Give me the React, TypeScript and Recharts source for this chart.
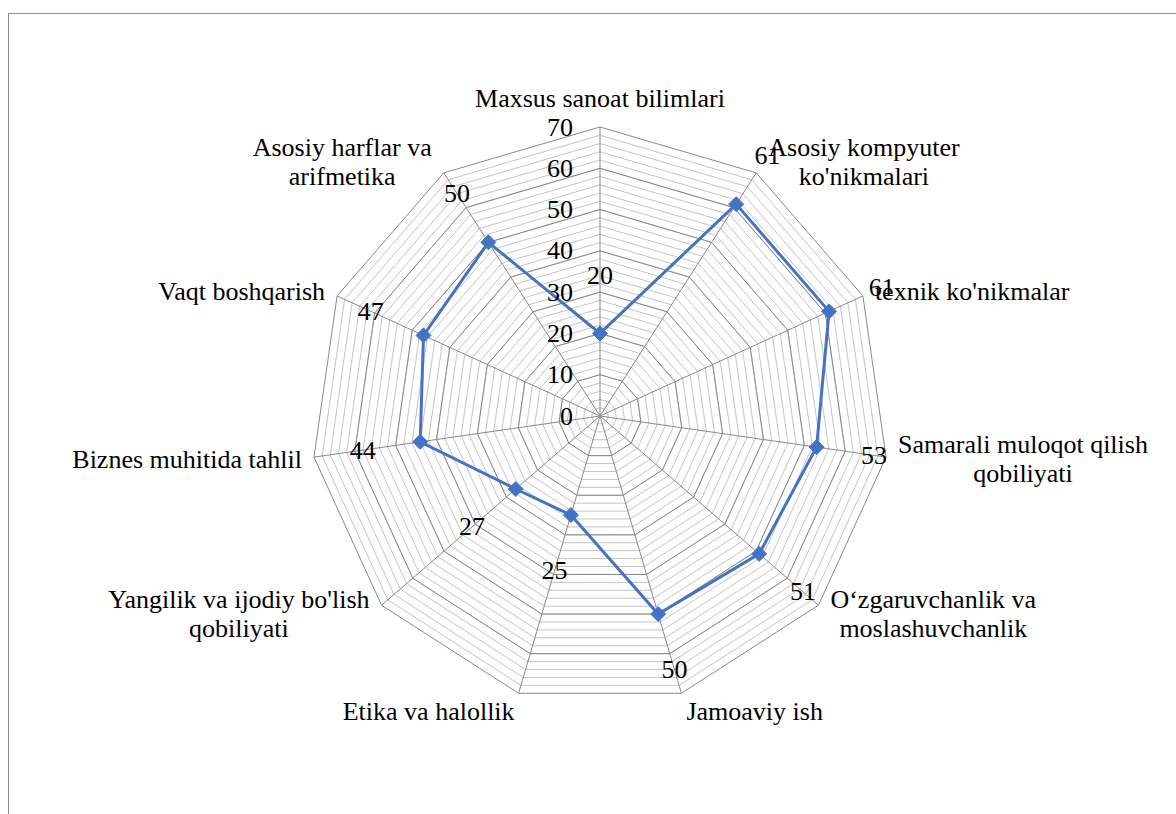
import React from 'react';
import { RadarChart, Radar, PolarGrid, PolarAngleAxis, PolarRadiusAxis } from 'recharts';

const categories = [
  'Maxsus sanoat bilimlari',
  "Asosiy kompyuter ko'nikmalari",
  "texnik ko'nikmalar",
  'Samarali muloqot qilish qobiliyati',
  'O‘zgaruvchanlik va moslashuvchanlik',
  'Jamoaviy ish',
  'Etika va halollik',
  "Yangilik va ijodiy bo'lish qobiliyati",
  'Biznes muhitida tahlil',
  'Vaqt boshqarish',
  'Asosiy harflar va arifmetika',
];
const values = [20, 61, 61, 53, 51, 50, 25, 27, 44, 47, 50];
const radiusTicks = [0, 10, 20, 30, 40, 50, 60, 70];
const minorStep = 2;

const CX = 600;
const CY = 416;
const R = 289;
const MAX = 70;
const FONT = "'Liberation Serif', 'Times New Roman', serif";
const FS = 26;
const LINE_H = 29;
const WRAP_W = 280;
const textStyle = { fontFamily: FONT, fontSize: FS };

const data = categories.map((name, i) => ({ name, value: values[i] }));

const majorRadii = radiusTicks.map(v => (v / MAX) * R);
const minorRadii: number[] = [];
for (let v = minorStep; v < MAX; v += minorStep) minorRadii.push((v / MAX) * R);

let ctx: CanvasRenderingContext2D | null = null;
const measure = (s: string) => {
  if (!ctx) ctx = document.createElement('canvas').getContext('2d');
  if (!ctx) return s.length * FS * 0.45;
  ctx.font = `${FS}px 'Liberation Serif'`;
  return ctx.measureText(s).width;
};

// greedy word wrap, roughly how the original wraps its category labels
const wrap = (s: string) => {
  const words = s.split(' ');
  const lines: string[] = [];
  let cur = '';
  words.forEach(w => {
    const next = cur ? cur + ' ' + w : w;
    if (cur && measure(next) > WRAP_W) {
      lines.push(cur);
      cur = w;
    } else cur = next;
  });
  if (cur) lines.push(cur);
  return lines;
};

const AngleTick = (props: any) => {
  const i = props.index ?? props.payload?.index ?? 0;
  const n = categories.length;
  const a = ((90 - (i * 360) / n) * Math.PI) / 180;
  const c = Math.cos(a);
  const s = Math.sin(a);
  const vx = CX + R * c;
  const vy = CY - R * s;
  const lines = wrap(String(props.payload.value));
  const w = Math.max(...lines.map(measure));
  let bx: number;
  let firstBase: number;
  if (Math.abs(c) < 0.01) {
    bx = vx;
    firstBase = vy - 20 - (lines.length - 1) * LINE_H;
  } else if (s < -0.9) {
    bx = c > 0 ? vx + 5 + w / 2 : vx - 4 - w / 2;
    firstBase = vy + 27;
  } else {
    bx = c > 0 ? vx + 12 + w / 2 : vx - 12 - w / 2;
    const mid = vy - 13 * s;
    firstBase = mid - ((lines.length - 1) * LINE_H) / 2 + 9;
  }
  return (
    <text x={bx} y={firstBase} textAnchor="middle" fill="#000" style={textStyle}>
      {lines.map((l, k) => (
        <tspan key={k} x={bx} y={firstBase + k * LINE_H}>
          {l}
        </tspan>
      ))}
    </text>
  );
};

const RadiusTick = (props: any) => (
  <text x={props.x - 27} y={props.y} textAnchor="end" dominantBaseline="central" fill="#000" style={textStyle}>
    {props.payload.value}
  </text>
);

const DiamondDot = (props: any) => {
  const { cx, cy, index } = props;
  const dx = cx - CX;
  const dy = cy - CY;
  const r = Math.sqrt(dx * dx + dy * dy) || 1;
  const lr = r + 58;
  const lx = CX + (dx / r) * lr;
  const ly = CY + (dy / r) * lr;
  const d = 7.5;
  return (
    <g key={`dot-${index}`}>
      <path d={`M${cx},${cy - d}L${cx + d},${cy}L${cx},${cy + d}L${cx - d},${cy}Z`} fill="#4472C4" stroke="#4472C4" />
      <text x={lx} y={ly} textAnchor="middle" dominantBaseline="central" fill="#000" style={textStyle}>
        {values[index]}
      </text>
    </g>
  );
};

export default function App() {
  return (
    <div style={{ fontFamily: FONT }}>
      <div
        style={{
          position: 'fixed',
          left: 8,
          top: 13,
          width: 1300,
          height: 900,
          borderLeft: '1px solid #8c8c8c',
          borderTop: '1px solid #8c8c8c',
          background: '#fff',
        }}
      />
      <div style={{ position: 'fixed', left: 0, top: 0 }}>
        <RadarChart width={1176} height={814} data={data} cx={CX} cy={CY} outerRadius={R} margin={{ top: 0, right: 0, bottom: 0, left: 0 }}>
          <PolarGrid gridType="polygon" polarRadius={minorRadii} radialLines={false} stroke="#c4c4c4" strokeWidth={1} />
          <PolarGrid gridType="polygon" polarRadius={majorRadii} stroke="#898989" strokeWidth={1} />
          <PolarAngleAxis dataKey="name" tick={AngleTick} tickLine={false} axisLine={false} />
          <PolarRadiusAxis
            angle={90}
            domain={[0, MAX]}
            ticks={radiusTicks as any}
            tickCount={8}
            tick={RadiusTick}
            axisLine={false}
            tickLine={false}
          />
          <Radar
            dataKey="value"
            stroke="#4472C4"
            strokeWidth={3}
            fill="none"
            fillOpacity={0}
            dot={DiamondDot}
            isAnimationActive={false}
          />
        </RadarChart>
      </div>
    </div>
  );
}
